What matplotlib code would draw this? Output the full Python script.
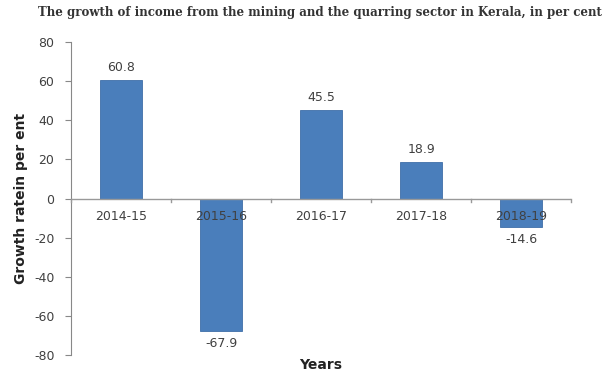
import matplotlib
matplotlib.use("Agg")
import matplotlib.pyplot as plt
import numpy as np

years = ["2014-15", "2015-16", "2016-17", "2017-18", "2018-19"]
growth = [60.8, -67.9, 45.5, 18.9, -14.6]
yticks = [-80, -60, -40, -20, 0, 20, 40, 60, 80]

fig = plt.figure(figsize=(6.03, 3.83), dpi=100)
ax = fig.add_axes([0.118, 0.073, 0.829, 0.817])

x = np.arange(len(years))
ax.bar(x, growth, width=0.42, color="#4a7ebb", edgecolor="#3f6fa8", linewidth=0.6, zorder=2)

ax.set_xlim(-0.5, len(years) - 0.5)
ax.set_ylim(-80, 80)
ax.set_yticks(yticks)
ax.set_yticklabels([str(v) for v in yticks], fontsize=9, color="#404040")
ax.tick_params(axis="y", length=4, color="#888888", pad=8)

for s in ["top", "right", "bottom"]:
    ax.spines[s].set_visible(False)
ax.spines["left"].set_color("#888888")
ax.axhline(0, color="#999999", linewidth=1, zorder=3)

# category tick marks at boundaries
for b in np.arange(-0.5, len(years) + 0.5, 1.0):
    ax.plot([b, b], [0, -2], color="#999999", linewidth=1, zorder=3, clip_on=False)
ax.set_xticks([])

for xi, lab in zip(x, years):
    ax.text(xi, -6, lab, ha="center", va="top", fontsize=9, color="#404040", zorder=4)

for xi, v in zip(x, growth):
    if v >= 0:
        ax.text(xi, v + 3, f"{v:.1f}", ha="center", va="bottom", fontsize=9, color="#404040")
    else:
        ax.text(xi, v - 3, f"{v:.1f}", ha="center", va="top", fontsize=9, color="#404040")

ax.set_ylabel("Growth ratein per ent", fontsize=10, fontweight="bold", color="#222222", labelpad=4)
ax.set_xlabel("Years", fontsize=10, fontweight="bold", color="#222222", labelpad=2)

fig.text(0.53, 0.968, "The growth of income from the mining and the quarring sector in Kerala, in per cent",
         ha="center", va="center", fontsize=8.5, fontweight="bold", family="DejaVu Serif", color="#333333")

fig.savefig("out.png", dpi=100)
